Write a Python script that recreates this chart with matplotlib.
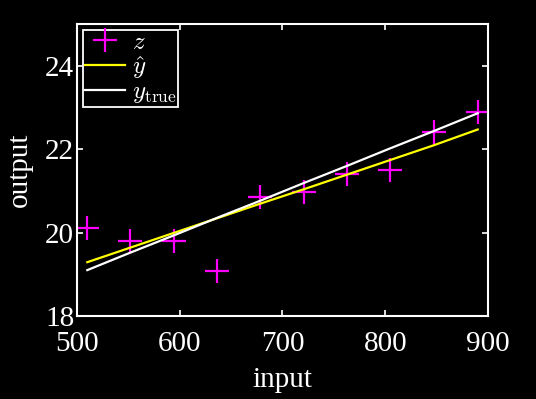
import matplotlib
matplotlib.use("Agg")
import matplotlib.pyplot as plt

# measured data
x_in = [510, 552, 594, 636, 678, 721, 763, 805, 847, 890]
z_obs = [20.12, 19.80, 19.80, 19.07, 20.85, 20.98, 21.40, 21.50, 22.40, 22.90]
y_hat = [19.29, 19.64, 19.99, 20.34, 20.69, 21.04, 21.39, 21.74, 22.09, 22.47]
y_true = [19.10, 19.52, 19.93, 20.35, 20.76, 21.19, 21.60, 22.02, 22.43, 22.86]

xticks = [500, 600, 700, 800, 900]
yticks = [18, 20, 22, 24]

plt.rcParams['font.family'] = ['Liberation Serif', 'DejaVu Serif']
plt.rcParams['mathtext.fontset'] = 'cm'

fig = plt.figure(figsize=(5.36, 3.99), dpi=100, facecolor='black')
ax = fig.add_axes([0.1437, 0.208, 0.7667, 0.732])
ax.set_facecolor('black')

ax.plot(x_in, z_obs, '+', color='#ff00ff', markersize=17, mew=1.6, label=r'$z$')
ax.plot(x_in, y_hat, color='#ffff00', lw=1.6, label=r'$\hat{y}$')
ax.plot(x_in, y_true, color='white', lw=1.6, label=r'$y_{\mathrm{true}}$')

ax.set_xlim(500, 900)
ax.set_ylim(18, 25)
ax.set_xticks(xticks)
ax.set_yticks(yticks)

for s in ax.spines.values():
    s.set_color('white')
    s.set_linewidth(1.5)
ax.tick_params(direction='in', length=4, width=1.2, colors='white',
               labelsize=21, top=True, right=True, pad=2)
ax.tick_params(axis='x', pad=11)

ax.set_xlabel('input', color='white', fontsize=21, labelpad=7)
ax.set_ylabel('output', color='white', fontsize=21, labelpad=9)

leg = ax.legend(loc='upper left', fontsize=18, facecolor='black', edgecolor='white',
                fancybox=False, framealpha=1, labelspacing=0.0, borderpad=0.05,
                handlelength=1.6, handletextpad=0.3, borderaxespad=0.25)
leg.get_frame().set_linewidth(1.3)
for t in leg.get_texts():
    t.set_color('white')

fig.savefig('out.png', dpi=100, facecolor='black')
